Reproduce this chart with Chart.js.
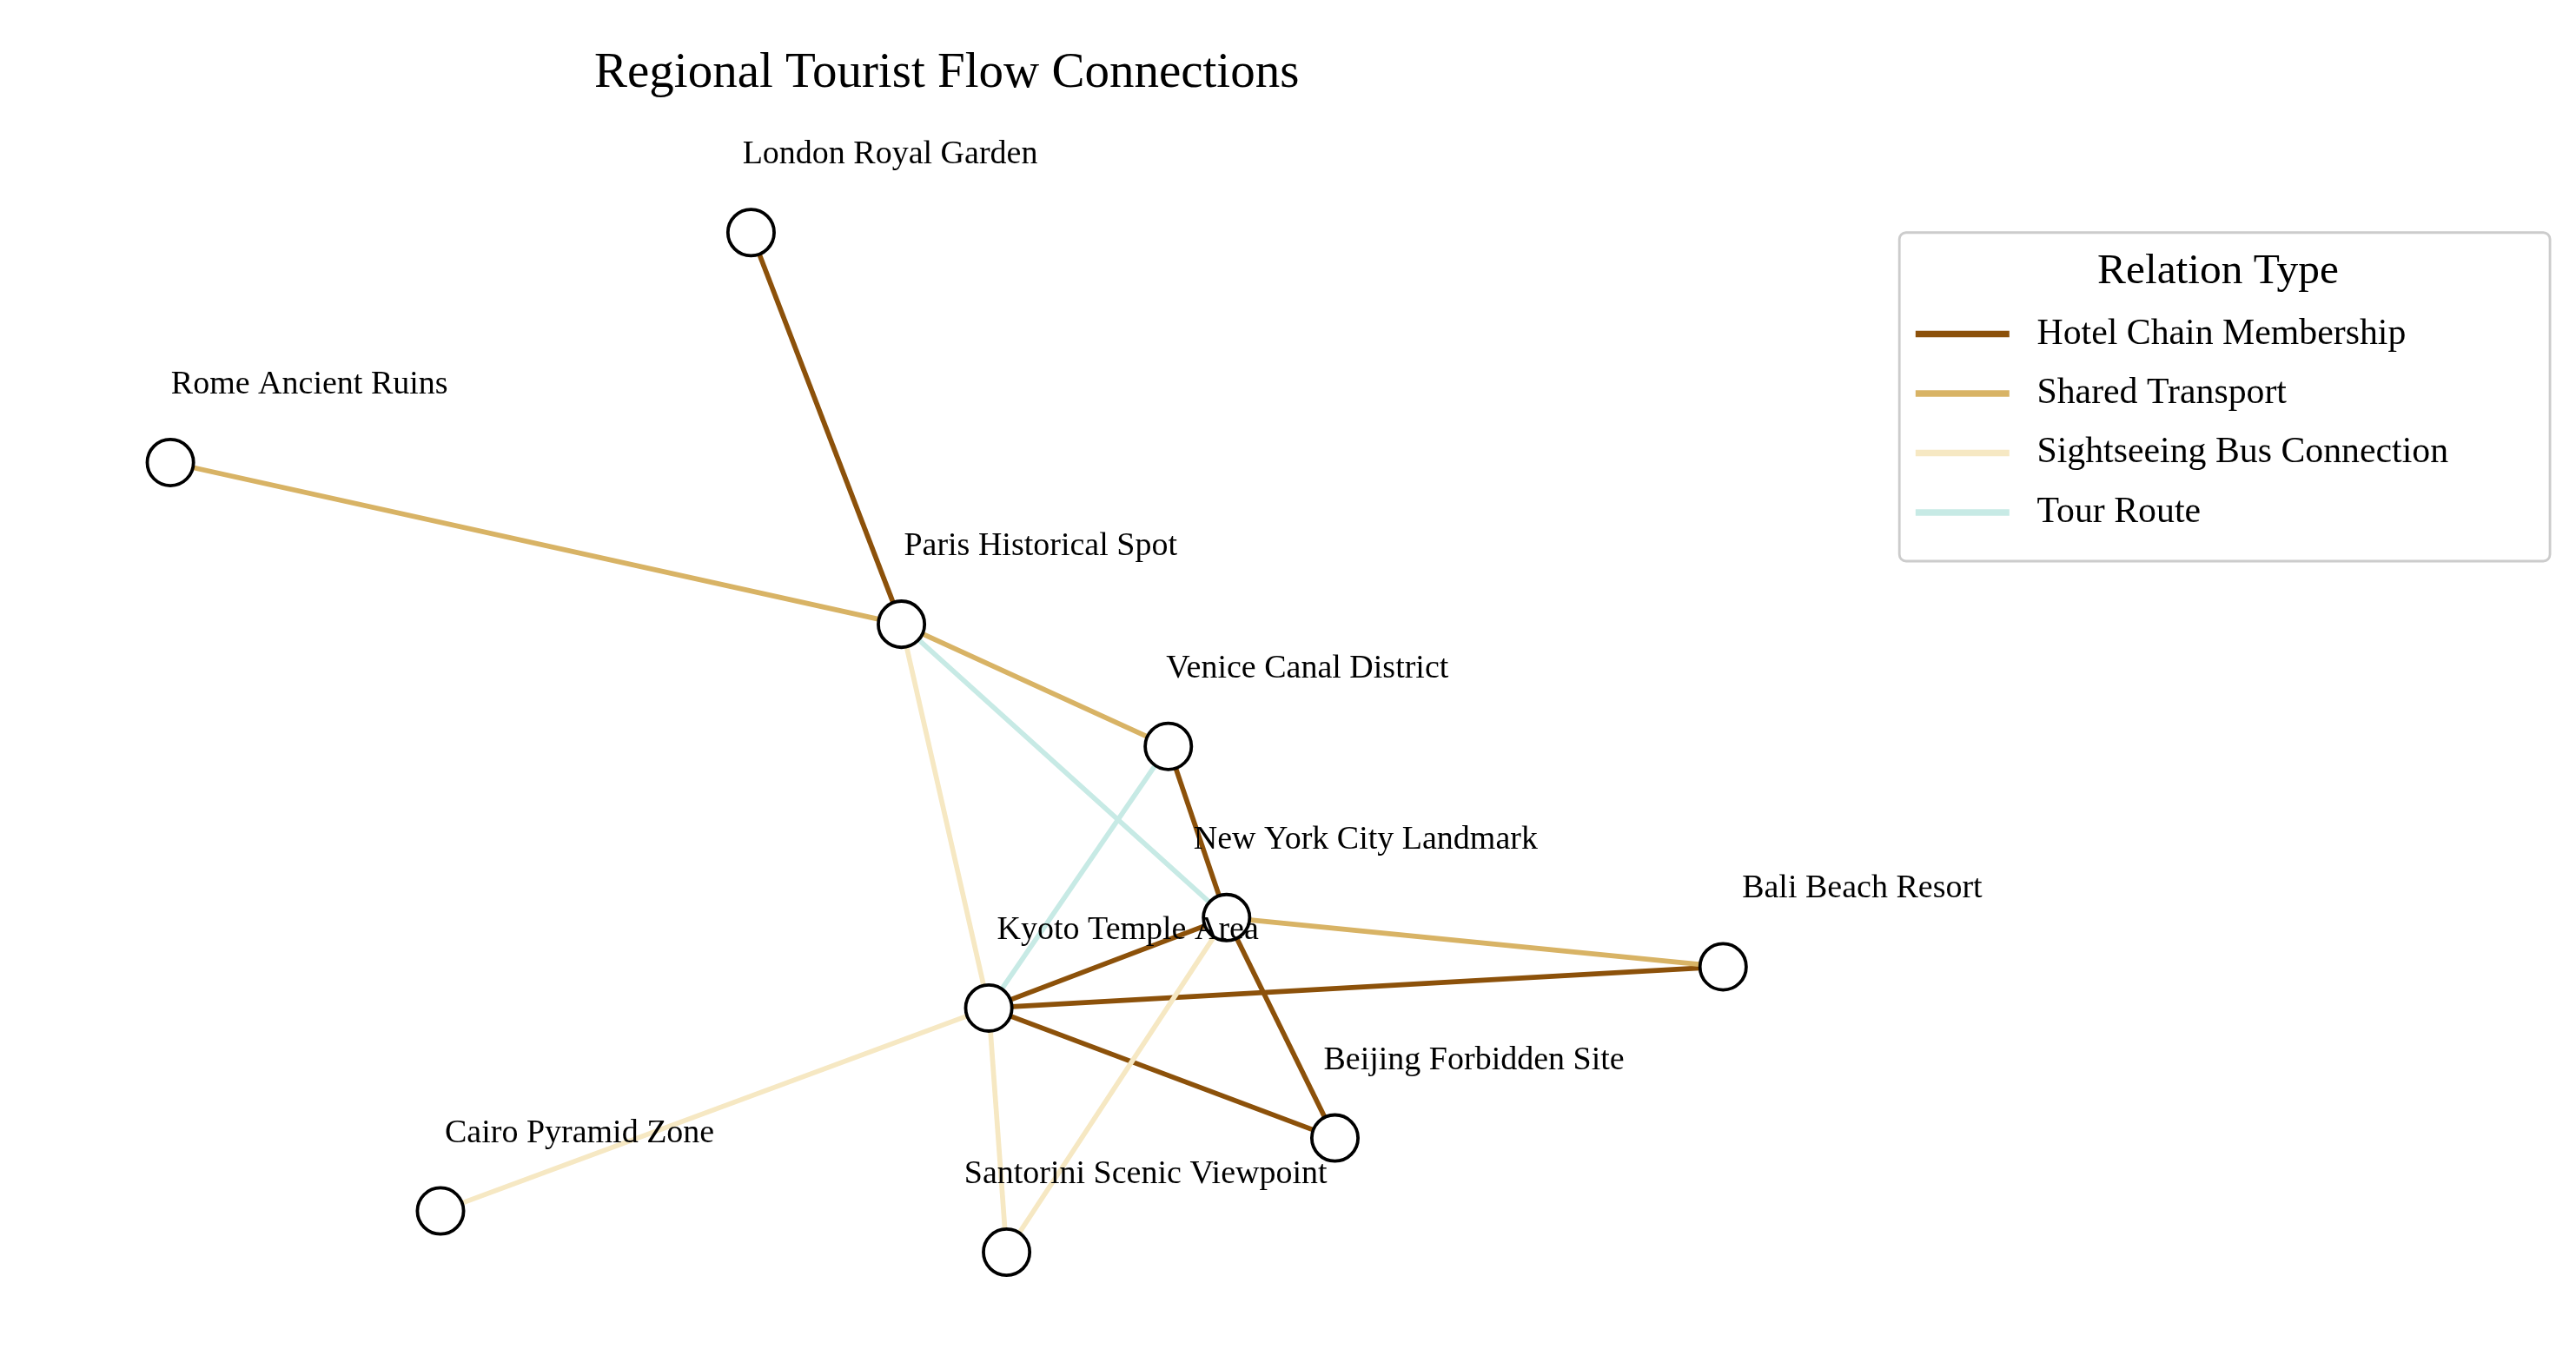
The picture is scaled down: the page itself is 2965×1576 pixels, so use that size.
<!DOCTYPE html>
<html><head><meta charset="utf-8">
<script src="https://cdn.jsdelivr.net/npm/chart.js@4/dist/chart.umd.min.js"></script>
<style>html,body{margin:0;padding:0;background:#fff}#w{width:2965px;height:1576px}</style>
</head><body><div id="w"><canvas id="c"></canvas></div>
<script>
const nodeNames = ["London Royal Garden","Rome Ancient Ruins","Paris Historical Spot","Venice Canal District","New York City Landmark","Bali Beach Resort","Kyoto Temple Area","Beijing Forbidden Site","Cairo Pyramid Zone","Santorini Scenic Viewpoint"];
const nodeX = [448,89,541,706,742,1049,595,809,256,606];
const nodeY = [130,275,377,454,562,593,619,701,747,773];
const relationTypes = ["Hotel Chain Membership","Shared Transport","Sightseeing Bus Connection","Tour Route"];
const relationColors = ["#8c510a","#d8b365","#f6e8c3","#c7eae5"];
const edgeFrom = [0,1,2,2,2,3,3,4,4,4,4,6,6,6,6];
const edgeTo   = [2,2,3,4,6,4,6,5,6,7,9,5,7,8,9];
const edgeType = [0,1,1,3,2,0,3,1,0,0,2,0,0,2,2];
const title = "Regional Tourist Flow Connections";
const S = 2965/1560;
const F = "'Liberation Serif','Times New Roman',serif";

const datasets = [{
  data: nodeX.map((x,i)=>({x, y: nodeY[i]})),
  showLine:false, pointRadius:14*S, pointHoverRadius:14*S,
  pointBackgroundColor:'#fff', pointBorderColor:'#000', pointBorderWidth:2*S
}];
edgeFrom.forEach((a,i)=>{
  const b = edgeTo[i];
  datasets.push({data:[{x:nodeX[a],y:nodeY[a]},{x:nodeX[b],y:nodeY[b]}],
    showLine:true, pointRadius:0, borderColor:relationColors[edgeType[i]], borderWidth:3*S});
});

const overlay = {id:'overlay', afterDraw(chart){
  const ctx = chart.ctx, xs = chart.scales.x, ys = chart.scales.y;
  ctx.save(); ctx.fillStyle='#000'; ctx.textAlign='center'; ctx.textBaseline='middle';
  ctx.font = (30*S)+'px '+F;
  ctx.fillText(title, xs.getPixelForValue(569), ys.getPixelForValue(30));
  ctx.font = (20*S)+'px '+F;
  nodeNames.forEach((n,i)=>ctx.fillText(n, xs.getPixelForValue(nodeX[i]+86), ys.getPixelForValue(nodeY[i]-49)));
  // legend
  const lx = xs.getPixelForValue(1158), ly = ys.getPixelForValue(130);
  const lw = 394*S, lh = 199*S;
  ctx.strokeStyle='#ccc'; ctx.lineWidth=1.5*S; ctx.fillStyle='#fff';
  ctx.beginPath(); ctx.roundRect(lx,ly,lw,lh,4*S); ctx.fill(); ctx.stroke();
  ctx.fillStyle='#000'; ctx.font=(26*S)+'px '+F;
  ctx.fillText('Relation Type', xs.getPixelForValue(1355), ys.getPixelForValue(155));
  ctx.textAlign='left'; ctx.font=(22*S)+'px '+F;
  relationTypes.forEach((t,i)=>{
    const y = ys.getPixelForValue(194+i*37.5);
    ctx.strokeStyle=relationColors[i]; ctx.lineWidth=4*S;
    ctx.beginPath(); ctx.moveTo(xs.getPixelForValue(1168),y); ctx.lineTo(xs.getPixelForValue(1226),y); ctx.stroke();
    ctx.fillStyle='#000'; ctx.fillText(t, xs.getPixelForValue(1243), y);
  });
  ctx.restore();
}};

new Chart(document.getElementById('c'), {
  type:'scatter', data:{datasets},
  options:{responsive:true, maintainAspectRatio:false, animation:false,
    layout:{padding:0},
    plugins:{legend:{display:false}, tooltip:{enabled:false}},
    scales:{x:{type:'linear',min:0,max:1560,display:false},
            y:{type:'linear',min:0,max:830,reverse:true,display:false}}},
  plugins:[overlay]
});
</script></body></html>
